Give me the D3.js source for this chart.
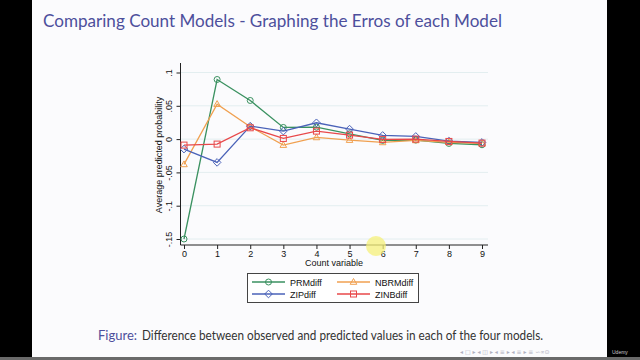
<!DOCTYPE html>
<html><head><meta charset="utf-8">
<script src="https://cdn.jsdelivr.net/npm/d3@7"></script>
<style>body{margin:0;background:#000}svg{display:block}</style>
</head><body><svg id="c" width="640" height="360"></svg>
<script>
const counts = [0,1,2,3,4,5,6,7,8,9];
const prmDiff  = [-0.150, 0.0895, 0.058, 0.0175, 0.018, 0.008, -0.002, -0.0015, -0.0065, -0.0085];
const nbrmDiff = [-0.038, 0.0525, 0.0185, -0.009, 0.0025, -0.0015, -0.005, -0.002, -0.005, -0.0065];
const zipDiff  = [-0.015, -0.035, 0.0195, 0.012, 0.0245, 0.015, 0.0055, 0.004, -0.003, -0.005];
const zinbDiff = [-0.009, -0.0075, 0.017, 0.001, 0.012, 0.006, -0.0005, 0.0, -0.0035, -0.006];
const yTicks = [0.1, 0.05, 0, -0.05, -0.1, -0.15];
const yTickLabels = [".1", ".05", "0", "-.05", "-.1", "-.15"];
const seriesNames = ["PRMdiff", "NBRMdiff", "ZIPdiff", "ZINBdiff"];

const svg = d3.select("#c");
// slide
svg.append("rect").attr("x",32).attr("y",0).attr("width",575).attr("height",357).attr("fill","#fbfbfd");
svg.append("rect").attr("x",0).attr("y",357).attr("width",640).attr("height",3).attr("fill","#6a6a6a");
svg.append("text").attr("x",43).attr("y",27).attr("font-family","Lato, 'Open Sans', sans-serif")
  .attr("font-size",18).attr("fill","#4d4f9c").attr("textLength",459).attr("lengthAdjust","spacingAndGlyphs")
  .text("Comparing Count Models - Graphing the Erros of each Model");

const x = d3.scaleLinear().domain([0,9]).range([184,482]);
const y = d3.scaleLinear().domain([-0.15,0.1]).range([239,72.5]);

const g = svg.append("g");
// gridlines
g.selectAll("line.grid").data(yTicks).join("line")
  .attr("x1",181).attr("x2",488).attr("y1",d=>y(d)).attr("y2",d=>y(d))
  .attr("stroke","#e3eef0").attr("stroke-width",1);

// axes
const yAxis = d3.axisLeft(y).tickValues(yTicks).tickFormat((d,i)=>yTickLabels[i]).tickSize(4).tickSizeOuter(0);
const ya = svg.append("g").attr("transform","translate(180.5,0)").call(yAxis);
ya.select(".domain").attr("d","M0,63V245");
ya.selectAll(".tick text").attr("transform","rotate(-90)").attr("x",0).attr("y",-8.5).attr("dy",0)
  .attr("text-anchor","middle").attr("font-family","'Liberation Sans', Arial, sans-serif").attr("font-size",9).attr("fill","#111");
const xAxis = d3.axisBottom(x).tickValues(counts).tickFormat(d3.format("d")).tickSize(4).tickSizeOuter(0);
const xa = svg.append("g").attr("transform","translate(0,245)").call(xAxis);
xa.select(".domain").attr("d","M180.5,0H488");
xa.selectAll(".tick text").attr("font-family","'Liberation Sans', Arial, sans-serif").attr("font-size",9).attr("fill","#111").attr("y",6);
svg.selectAll(".domain, .tick line").attr("stroke","#222");

svg.append("text").attr("transform","translate(162,155) rotate(-90)").attr("text-anchor","middle")
  .attr("font-family","'Liberation Sans', Arial, sans-serif").attr("font-size",9).attr("fill","#111").text("Average predicted probability");
svg.append("text").attr("x",334).attr("y",266).attr("text-anchor","middle")
  .attr("font-family","'Liberation Sans', Arial, sans-serif").attr("font-size",9).attr("fill","#111").text("Count variable");

const colors = ["#3a9160", "#f0a050", "#4a62b8", "#e8484a"];
const symbols = ["circle","triangle","diamond","square"];
function marker(sel, type, color){
  if(type==="circle") sel.append("circle").attr("r",3).attr("fill","none").attr("stroke",color).attr("stroke-width",1);
  else if(type==="triangle") sel.append("path").attr("d","M0,-3.5L3.3,2.3L-3.3,2.3Z").attr("fill","none").attr("stroke",color);
  else if(type==="diamond") sel.append("path").attr("d","M0,-3.8L3.8,0L0,3.8L-3.8,0Z").attr("fill","none").attr("stroke",color);
  else sel.append("rect").attr("x",-3).attr("y",-3).attr("width",6).attr("height",6).attr("fill","none").attr("stroke",color);
}
const allSeries = [prmDiff, nbrmDiff, zipDiff, zinbDiff];
const line = d3.line().x((d,i)=>x(counts[i])).y(d=>y(d));
allSeries.forEach((s,k)=>{
  svg.append("path").attr("d",line(s)).attr("fill","none").attr("stroke",colors[k]).attr("stroke-width",1.3);
  s.forEach((v,i)=>{
    const m = svg.append("g").attr("transform",`translate(${x(counts[i])},${y(v)})`);
    marker(m, symbols[k], colors[k]);
  });
});

// legend
const lg = svg.append("g");
lg.append("rect").attr("x",247.5).attr("y",273.5).attr("width",171).attr("height",29).attr("fill","#fff").attr("stroke","#444").attr("stroke-width",1);
const pos = [[252,282],[337,282],[252,294],[337,294]];
seriesNames.forEach((n,k)=>{
  const [lx,ly] = pos[k];
  lg.append("line").attr("x1",lx).attr("x2",lx+33).attr("y1",ly).attr("y2",ly).attr("stroke",colors[k]).attr("stroke-width",1.3);
  const m = lg.append("g").attr("transform",`translate(${lx+16.5},${ly})`);
  marker(m, symbols[k], colors[k]);
  lg.append("text").attr("x",lx+38).attr("y",ly+3.5).attr("font-family","'Liberation Sans', Arial, sans-serif")
    .attr("font-size",9).attr("fill","#111").text(n);
});

// cursor highlight
svg.append("circle").attr("cx",376).attr("cy",246).attr("r",10).attr("fill","#f5f07a").attr("opacity",0.75);

// caption
const capFont = "Lato, 'Open Sans', sans-serif";
const c1 = svg.append("text").attr("x",98).attr("y",340).attr("font-family",capFont).attr("font-size",13)
  .attr("fill","#4d4f9c").text("Figure:");
const w1 = c1.node().getComputedTextLength();
svg.append("text").attr("x",98+w1+5).attr("y",340).attr("font-family",capFont).attr("font-size",13)
  .attr("fill","#333").attr("textLength",543-(98+w1+5)).attr("lengthAdjust","spacingAndGlyphs")
  .text("Difference between observed and predicted values in each of the four models.");

// nav symbols
svg.append("text").attr("x",460).attr("y",354).attr("font-family","'DejaVu Sans', sans-serif").attr("font-size",6).attr("fill","#b0b0c0")
  .text("◂ □ ▸  ◂ ◫ ▸  ◂ ≡ ▸  ◂ ≡ ▸    ≡     ∽∝⊙");
svg.append("text").attr("x",612).attr("y",354).attr("font-family","'Liberation Sans', sans-serif").attr("font-size",5).attr("fill","#ccc").text("Udemy");
</script></body></html>
